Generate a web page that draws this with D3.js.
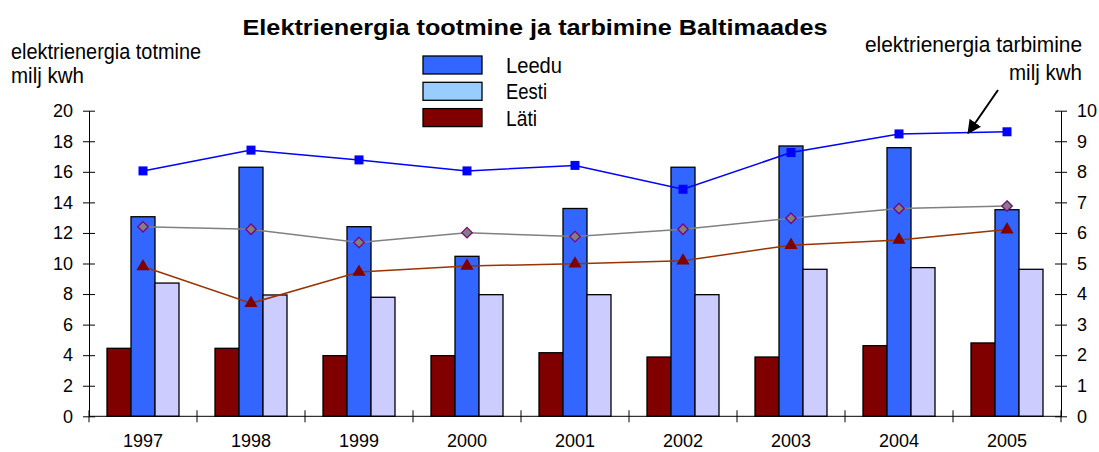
<!DOCTYPE html>
<html>
<head>
<meta charset="utf-8">
<script src="https://cdn.jsdelivr.net/npm/d3@7"></script>
<style>
  body { margin: 0; background: #fff; }
  text { font-family: "Liberation Sans", Arial, sans-serif; }
</style>
</head>
<body>
<script>
// aastad
var years = ["1997", "1998", "1999", "2000", "2001", "2002", "2003", "2004", "2005"];

// tootmine (vasak telg)
var latiTootmine = [4.45, 4.45, 3.97, 3.97, 4.16, 3.88, 3.88, 4.62, 4.8];
var leeduTootmine = [13.06, 16.3, 12.41, 10.47, 13.6, 16.3, 17.69, 17.58, 13.52];
var eestiTootmine = [8.72, 7.94, 7.79, 7.96, 7.96, 7.96, 9.62, 9.73, 9.62];

// tarbimine (parem telg)
var leeduTarbimine = [8.03, 8.71, 8.39, 8.03, 8.21, 7.43, 8.63, 9.24, 9.31];
var eestiTarbimine = [6.2, 6.12, 5.69, 6.01, 5.88, 6.12, 6.48, 6.8, 6.88];
var latiTarbimine = [4.9, 3.7, 4.72, 4.92, 4.99, 5.09, 5.6, 5.77, 6.11];

var leftTicks = [0, 2, 4, 6, 8, 10, 12, 14, 16, 18, 20];
var rightTicks = [0, 1, 2, 3, 4, 5, 6, 7, 8, 9, 10];

var barSeries = ["Läti", "Leedu", "Eesti"];
var legendNames = ["Leedu", "Eesti", "Läti"];

var width = 1099, height = 452;
var plot = {left: 89, right: 1061, top: 110.7, bottom: 416.3};

var svg = d3.select("body").append("svg")
    .attr("width", width)
    .attr("height", height);

var x = d3.scaleBand().domain(years).range([plot.left, plot.right]);
var xInner = d3.scaleBand().domain(barSeries).range([0, x.bandwidth()]).paddingOuter(0.75);
var yLeft = d3.scaleLinear().domain([0, 20]).range([plot.bottom, plot.top]);
var yRight = d3.scaleLinear().domain([0, 10]).range([plot.bottom, plot.top]);

var barColor = {"Läti": "#800000", "Leedu": "#3366ff", "Eesti": "#ccccff"};
var legendColor = {"Leedu": "#3366ff", "Eesti": "#99ccff", "Läti": "#800000"};
var barValues = {"Läti": latiTootmine, "Leedu": leeduTootmine, "Eesti": eestiTootmine};

// kitsas kiri: venitame teksti etteantud laiusele
function narrow(sel, len) {
    sel.style("font-size", "22px")
        .attr("textLength", len)
        .attr("lengthAdjust", "spacingAndGlyphs");
}

// tulbad
barSeries.forEach(function(s) {
    svg.append("g").selectAll("rect")
        .data(barValues[s])
        .enter().append("rect")
        .attr("x", function(d, i) { return x(years[i]) + xInner(s); })
        .attr("y", function(d) { return yLeft(d); })
        .attr("width", xInner.bandwidth())
        .attr("height", function(d) { return yLeft(0) - yLeft(d); })
        .style("fill", barColor[s])
        .style("stroke", "#000")
        .style("stroke-width", 1.3);
});

// teljed
var axisLeft = d3.axisLeft(yLeft).tickValues(leftTicks).tickSizeInner(6).tickSizeOuter(0).tickPadding(10);
var gl = svg.append("g").attr("transform", "translate(" + plot.left + ",0)").call(axisLeft);
var axisRight = d3.axisRight(yRight).tickValues(rightTicks).tickSizeInner(6).tickSizeOuter(0).tickPadding(10);
var gr = svg.append("g").attr("transform", "translate(" + plot.right + ",0)").call(axisRight);

[gl, gr].forEach(function(g) {
    g.select(".domain").attr("stroke", "#000");
    g.selectAll(".tick line").attr("x1", -6).attr("x2", 6).attr("stroke", "#000");
    g.selectAll(".tick text").style("font-size", "18px").attr("fill", "#000");
});

// x telg
var gx = svg.append("g").attr("transform", "translate(0," + plot.bottom + ")");
gx.append("line").attr("x1", plot.left).attr("x2", plot.right).attr("stroke", "#000");
var edges = years.map(function(y) { return x(y); }).concat([plot.right]);
gx.selectAll("line.tk").data(edges).enter().append("line")
    .attr("class", "tk")
    .attr("x1", function(d) { return d; }).attr("x2", function(d) { return d; })
    .attr("y1", -6).attr("y2", 6).attr("stroke", "#000");
gx.selectAll("text").data(years).enter().append("text")
    .attr("x", function(d) { return x(d) + x.bandwidth() / 2; })
    .attr("y", 31)
    .attr("text-anchor", "middle")
    .style("font-size", "18px")
    .text(function(d) { return d; });

// jooned
function cx(i) { return x(years[i]) + x.bandwidth() / 2; }

var line = d3.line()
    .x(function(d, i) { return cx(i); })
    .y(function(d) { return yRight(d); });

svg.append("path").datum(eestiTarbimine).attr("d", line)
    .attr("fill", "none").attr("stroke", "#808080").attr("stroke-width", 1.5);
svg.append("path").datum(latiTarbimine).attr("d", line)
    .attr("fill", "none").attr("stroke", "#993300").attr("stroke-width", 1.5);
svg.append("path").datum(leeduTarbimine).attr("d", line)
    .attr("fill", "none").attr("stroke", "#0000ff").attr("stroke-width", 1.5);

svg.append("g").selectAll("path").data(eestiTarbimine).enter().append("path")
    .attr("d", d3.symbol().type(d3.symbolDiamond2).size(70))
    .attr("transform", function(d, i) { return "translate(" + cx(i) + "," + yRight(d) + ")"; })
    .attr("fill", "#808080").attr("stroke", "#800080").attr("stroke-width", 1.3);

svg.append("g").selectAll("path").data(latiTarbimine).enter().append("path")
    .attr("d", d3.symbol().type(d3.symbolTriangle).size(75))
    .attr("transform", function(d, i) { return "translate(" + cx(i) + "," + yRight(d) + ")"; })
    .attr("fill", "#800000");

svg.append("g").selectAll("rect").data(leeduTarbimine).enter().append("rect")
    .attr("x", function(d, i) { return cx(i) - 4.5; })
    .attr("y", function(d) { return yRight(d) - 4.5; })
    .attr("width", 9).attr("height", 9)
    .attr("fill", "#0000ff");

// pealkiri
svg.append("text")
    .attr("x", 535).attr("y", 35)
    .attr("text-anchor", "middle")
    .style("font-size", "22px").style("font-weight", "bold")
    .attr("textLength", 585).attr("lengthAdjust", "spacingAndGlyphs")
    .text("Elektrienergia tootmine ja tarbimine Baltimaades");

// telgede nimed
svg.append("text").attr("x", 11).attr("y", 59)
    .call(narrow, 190).text("elektrienergia totmine");
svg.append("text").attr("x", 11).attr("y", 83)
    .call(narrow, 73).text("milj kwh");
svg.append("text").attr("x", 865).attr("y", 52)
    .call(narrow, 217).text("elektrienergia tarbimine");
svg.append("text").attr("x", 1009).attr("y", 80)
    .call(narrow, 73).text("milj kwh");

// nool
svg.append("defs").append("marker")
    .attr("id", "arrow").attr("viewBox", "0 0 10 10")
    .attr("refX", 8).attr("refY", 5)
    .attr("markerWidth", 7).attr("markerHeight", 7)
    .attr("markerUnits", "userSpaceOnUse")
    .attr("orient", "auto")
    .append("path").attr("d", "M0,0 L10,5 L0,10 z").attr("fill", "#000");
svg.select("marker").attr("markerWidth", 14).attr("markerHeight", 14);
svg.append("line")
    .attr("x1", 998).attr("y1", 90).attr("x2", 969).attr("y2", 132)
    .attr("stroke", "#000").attr("stroke-width", 2)
    .attr("marker-end", "url(#arrow)");

// legend
var legendLen = {"Leedu": 56, "Eesti": 41, "Läti": 31};
var lg = svg.append("g").attr("transform", "translate(423,56)");
var li = lg.selectAll("g").data(legendNames).enter().append("g")
    .attr("transform", function(d, i) { return "translate(0," + i * 26.3 + ")"; });
li.append("rect").attr("width", 59).attr("height", 18)
    .attr("fill", function(d) { return legendColor[d]; })
    .attr("stroke", "#000").attr("stroke-width", 1.3);
li.append("text").attr("x", 83).attr("y", 17)
    .style("font-size", "22px")
    .attr("textLength", function(d) { return legendLen[d]; })
    .attr("lengthAdjust", "spacingAndGlyphs")
    .text(function(d) { return d; });
</script>
</body>
</html>
